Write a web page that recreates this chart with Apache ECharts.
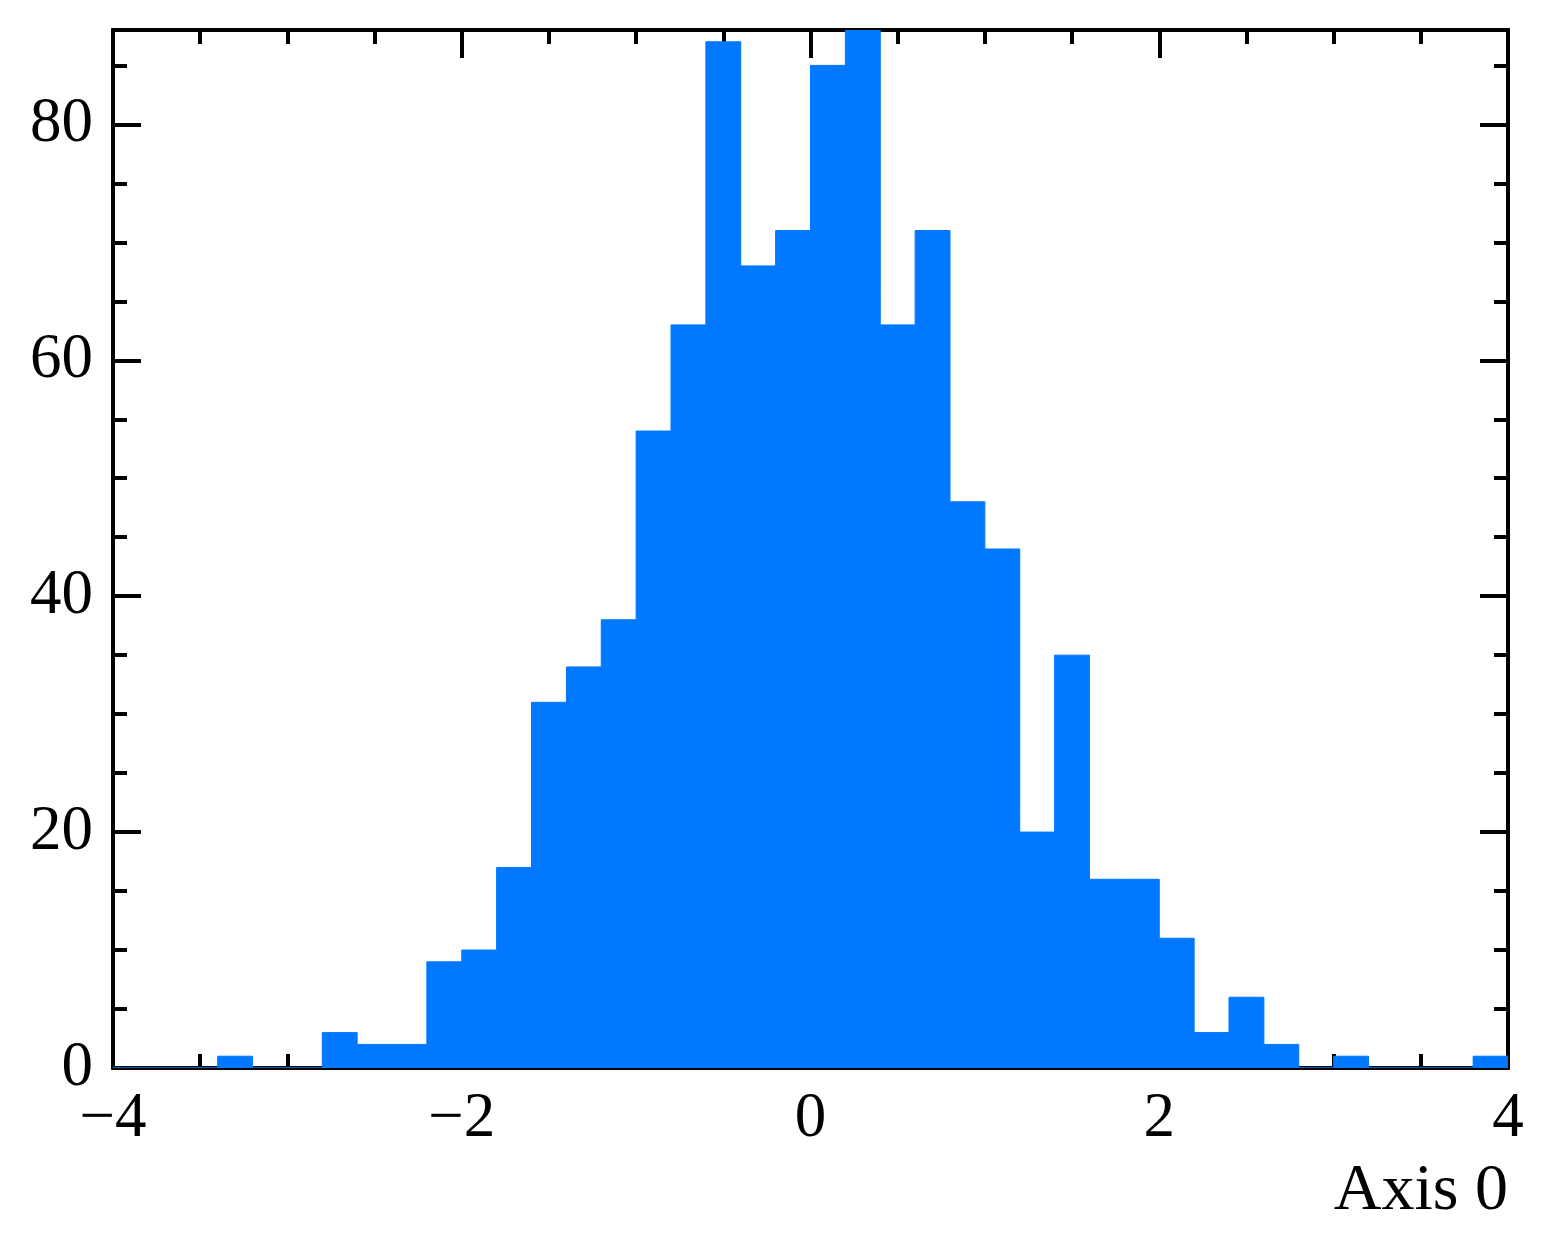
<!DOCTYPE html>
<html>
  <head>
    <meta charset="utf-8" />
    <title>Histogram</title>
    <script src="https://cdn.jsdelivr.net/npm/echarts@6/dist/echarts.min.js"></script>
    <style>
      html, body { margin: 0; padding: 0; background: #fff; }
      #main { width: 1553px; height: 1257px; }
    </style>
  </head>
  <body>
    <div id="main"></div>
    <script>
      // bin edges (width 0.2) and counts
      var binEdges = [
        -4.0, -3.8, -3.6, -3.4, -3.2, -3.0, -2.8, -2.6, -2.4, -2.2,
        -2.0, -1.8, -1.6, -1.4, -1.2, -1.0, -0.8, -0.6, -0.4, -0.2,
        0.0, 0.2, 0.4, 0.6, 0.8, 1.0, 1.2, 1.4, 1.6, 1.8,
        2.0, 2.2, 2.4, 2.6, 2.8, 3.0, 3.2, 3.4, 3.6, 3.8, 4.0
      ]
      var counts = [
        0, 0, 0, 1, 0, 0, 3, 2, 2, 9,
        10, 17, 31, 34, 38, 54, 63, 87, 68, 71,
        85, 88, 63, 71, 48, 44, 20, 35, 16, 16,
        11, 3, 6, 2, 0, 1, 0, 0, 0, 1
      ]
      var xTicks = [-4, -2, 0, 2, 4]
      var yTicks = [0, 20, 40, 60, 80]
      var xLabel = 'Axis 0'

      var fontFamily = '"Liberation Serif", "DejaVu Serif", serif'
      var black = '#000'
      var barColor = '#0078ff'
      var lw = 4

      var histData = []
      for (var i = 0; i < counts.length; i++) {
        histData.push([binEdges[i], binEdges[i + 1], counts[i]])
      }

      function fmt(v) {
        return String(v).replace('-', '\u2212')
      }

      function axisBase(extra) {
        var a = {
          type: 'value',
          axisLine: { show: true, onZero: false, lineStyle: { color: black, width: lw } },
          splitLine: { show: false },
          axisLabel: { show: false },
          axisTick: { show: true, inside: true, length: 28, lineStyle: { color: black, width: lw } }
        }
        for (var k in extra) a[k] = extra[k]
        return a
      }
      var minorTick = { show: true, inside: true, length: 14, lineStyle: { color: black, width: lw } }

      var myChart = echarts.init(document.getElementById('main'))
      var option = {
        animation: false,
        grid: { left: 113, right: 45, top: 30, bottom: 189 },
        xAxis: [
          // major bottom, with labels
          axisBase({
            position: 'bottom', min: xTicks[0], max: xTicks[xTicks.length - 1], interval: 2,
            axisLabel: {
              show: true, color: black, fontSize: 63, fontFamily: fontFamily, margin: 20,
              formatter: function (v) { return fmt(v) }
            }
          }),
          axisBase({ position: 'bottom', min: -4, max: 4, interval: 0.5, axisTick: minorTick }),
          axisBase({ position: 'top', min: -4, max: 4, interval: 2 }),
          axisBase({ position: 'top', min: -4, max: 4, interval: 0.5, axisTick: minorTick })
        ],
        yAxis: [
          axisBase({
            position: 'left', min: yTicks[0], max: 88, interval: 20,
            axisLabel: {
              show: true, color: black, fontSize: 63, fontFamily: fontFamily, margin: 20,
              showMaxLabel: false,
              formatter: function (v) { return v % 20 === 0 ? String(v) : '' }
            }
          }),
          axisBase({ position: 'left', min: 0, max: 88, interval: 5, axisTick: minorTick }),
          axisBase({ position: 'right', min: 0, max: 88, interval: 20 }),
          axisBase({ position: 'right', min: 0, max: 88, interval: 5, axisTick: minorTick })
        ],
        graphic: [
          {
            type: 'text',
            style: {
              x: 1508, y: 1192, text: xLabel, align: 'right', verticalAlign: 'middle',
              font: '66px "Liberation Serif", "DejaVu Serif", serif', fill: black
            }
          }
        ],
        series: [
          {
            type: 'custom',
            xAxisIndex: 0,
            yAxisIndex: 0,
            clip: true,
            z: 1,
            data: histData,
            renderItem: function (params, api) {
              var p0 = api.coord([api.value(0), api.value(2)])
              var p1 = api.coord([api.value(1), 0])
              return {
                type: 'rect',
                shape: { x: p0[0], y: p0[1], width: p1[0] - p0[0], height: p1[1] - p0[1] },
                style: { fill: barColor, stroke: barColor, lineWidth: 1 }
              }
            },
            encode: { x: [0, 1], y: 2 }
          }
        ]
      }
      myChart.setOption(option)
    </script>
  </body>
</html>
